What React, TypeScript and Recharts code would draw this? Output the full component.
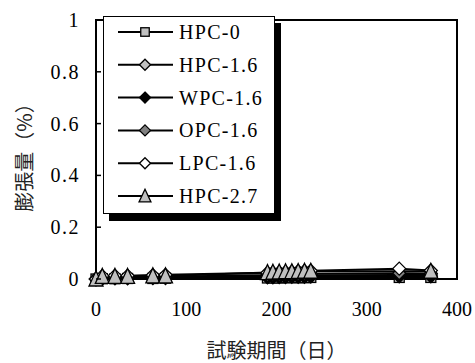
import React from 'react';
import { LineChart, Line, XAxis, YAxis, Legend, ReferenceArea } from 'recharts';

const days = [0, 7, 21, 35, 63, 77, 190, 196, 203, 210, 217, 224, 231, 238, 336, 371];
const hpc0 = [0, 0.001, 0.001, 0.002, 0.002, 0.003, 0.004, 0.004, 0.004, 0.005, 0.005, 0.005, 0.005, 0.006, 0.006, 0.006];
const hpc16 = [0, 0.004, 0.005, 0.005, 0.006, 0.006, 0.01, 0.011, 0.011, 0.012, 0.012, 0.013, 0.013, 0.014, 0.015, 0.015];
const wpc16 = [0, 0.002, 0.003, 0.003, 0.004, 0.004, 0.006, 0.006, 0.007, 0.007, 0.008, 0.008, 0.008, 0.009, 0.01, 0.01];
const opc16 = [0, 0.006, 0.007, 0.007, 0.008, 0.009, 0.015, 0.016, 0.016, 0.017, 0.018, 0.018, 0.019, 0.02, 0.022, 0.021];
const lpc16 = [0, 0.012, 0.013, 0.013, 0.015, 0.016, 0.024, 0.025, 0.026, 0.027, 0.028, 0.03, 0.031, 0.032, 0.04, 0.033];
const hpc27: (number | null)[] = [0, 0.01, 0.01, 0.01, 0.012, 0.012, 0.025, 0.026, 0.027, 0.028, 0.028, 0.029, 0.03, 0.03, null, 0.03];

const xTicks = [0, 100, 200, 300, 400];
const yTicks = [0, 0.2, 0.4, 0.6, 0.8, 1];

type Shape = 'square' | 'diamond' | 'triangle';
const seriesDefs: { key: string; name: string; values: (number | null)[]; shape: Shape; fill: string }[] = [
  { key: 'hpc0', name: 'HPC-0', values: hpc0, shape: 'square', fill: '#c0c0c0' },
  { key: 'hpc16', name: 'HPC-1.6', values: hpc16, shape: 'diamond', fill: '#c0c0c0' },
  { key: 'wpc16', name: 'WPC-1.6', values: wpc16, shape: 'diamond', fill: '#000000' },
  { key: 'opc16', name: 'OPC-1.6', values: opc16, shape: 'diamond', fill: '#808080' },
  { key: 'lpc16', name: 'LPC-1.6', values: lpc16, shape: 'diamond', fill: '#ffffff' },
  { key: 'hpc27', name: 'HPC-2.7', values: hpc27, shape: 'triangle', fill: '#c0c0c0' },
];

const data = days.map((d, i) => {
  const row: Record<string, number | null> = { day: d };
  seriesDefs.forEach((s) => {
    row[s.key] = s.values[i];
  });
  return row;
});

const SERIF = '"Liberation Serif", "Times New Roman", serif';
const CJK = '"Noto Sans CJK JP", sans-serif';

function Marker({ cx, cy, shape, fill, scale = 1 }: { cx: number; cy: number; shape: Shape; fill: string; scale?: number }) {
  if (cx == null || cy == null || isNaN(cx) || isNaN(cy)) return null;
  if (shape === 'square') {
    const h = 5 * scale;
    return <rect x={cx - h} y={cy - h} width={2 * h} height={2 * h} fill={fill} stroke="#000" strokeWidth={1.3} />;
  }
  if (shape === 'diamond') {
    const h = 6.5 * scale;
    return (
      <polygon
        points={`${cx},${cy - h} ${cx + h},${cy} ${cx},${cy + h} ${cx - h},${cy}`}
        fill={fill}
        stroke="#000"
        strokeWidth={1.3}
      />
    );
  }
  const w = 7 * scale;
  const t = 8 * scale;
  const b = 7 * scale;
  return (
    <polygon
      points={`${cx},${cy - t} ${cx + w},${cy + b} ${cx - w},${cy + b}`}
      fill={fill}
      stroke="#000"
      strokeWidth={1.3}
    />
  );
}

const YTick = (props: any) => {
  const { x, y, payload } = props;
  const axisX = x + 16;
  return (
    <g>
      <line x1={axisX} y1={y} x2={axisX + 5} y2={y} stroke="#000" strokeWidth={1.5} />
      <text x={x} y={y} textAnchor="end" dominantBaseline="central" fontFamily={SERIF} fontSize={20} letterSpacing={1.5} fill="#000">
        {payload.value}
      </text>
    </g>
  );
};

const XTick = (props: any) => {
  const { x, y, payload } = props;
  return (
    <text x={x} y={y + 22} textAnchor="middle" dominantBaseline="central" fontFamily={SERIF} fontSize={20} fill="#000">
      {payload.value}
    </text>
  );
};

const LegendBox = () => {
  return (
    <div
      style={{
        width: 172,
        height: 198,
        border: '1px solid #000',
        boxShadow: '6px 7px 0 #000',
        background: '#fff',
        boxSizing: 'border-box',
      }}
    >
      <svg width={170} height={196} style={{ display: 'block' }}>
        {seriesDefs.map((s, i) => {
          const cy = 15 + i * 32.8;
          return (
            <g key={s.key}>
              <line x1={14} y1={cy} x2={69} y2={cy} stroke="#000" strokeWidth={2} />
              <Marker cx={41} cy={cy} shape={s.shape} fill={s.fill} scale={0.85} />
              <text x={75} y={cy} dominantBaseline="central" fontFamily={SERIF} fontSize={20} letterSpacing={1.3} fill="#000">
                {s.name}
              </text>
            </g>
          );
        })}
      </svg>
    </div>
  );
};

export default function App() {
  return (
    <div style={{ position: 'absolute', left: 0, top: 0, background: '#fff' }}>
      <LineChart width={475} height={363} data={data} margin={{ top: 20, right: 18, bottom: 24, left: 0 }}>
        <ReferenceArea x1={0} x2={400} y1={0} y2={1} fill="none" stroke="#000" strokeWidth={2} ifOverflow="visible" />
        <XAxis
          dataKey="day"
          type="number"
          domain={[0, 400]}
          ticks={xTicks}
          tickLine={false}
          axisLine={{ stroke: '#000', strokeWidth: 2 }}
          height={60}
          tick={<XTick />}
          interval={0}
          label={(p: any) => {
            const vb = p.viewBox || {};
            return (
              <text x={vb.x + vb.width / 2} y={vb.y + 70} textAnchor="middle" dominantBaseline="central" fontFamily={CJK} fontSize={20} fill="#222">
                試験期間（日）
              </text>
            );
          }}
        />
        <YAxis
          type="number"
          domain={[0, 1]}
          ticks={yTicks}
          width={96}
          tickLine={false}
          tickSize={0}
          tickMargin={16}
          axisLine={{ stroke: '#000', strokeWidth: 2 }}
          tick={<YTick />}
          interval={0}
          label={(p: any) => {
            const vb = p.viewBox || {};
            const cx = vb.x + 23;
            const cy = vb.y + vb.height / 2 + 3;
            return (
              <text x={cx} y={cy} transform={`rotate(-90 ${cx} ${cy})`} textAnchor="middle" dominantBaseline="central" fontFamily={CJK} fontSize={20} fill="#222">
                膨張量（%）
              </text>
            );
          }}
        />
        {seriesDefs.map((s) => (
          <Line
            key={s.key}
            dataKey={s.key}
            name={s.name}
            stroke="#000"
            strokeWidth={2}
            connectNulls
            isAnimationActive={false}
            dot={(p: any) => <Marker key={`${s.key}-${p.index}`} cx={p.cx} cy={p.cy} shape={s.shape} fill={s.fill} />}
            activeDot={false}
          />
        ))}
        <Legend
          layout="horizontal"
          verticalAlign="middle"
          align="center"
          content={() => <LegendBox />}
          wrapperStyle={{ left: 103, top: 16, width: 178, height: 205 }}
        />
      </LineChart>
    </div>
  );
}
